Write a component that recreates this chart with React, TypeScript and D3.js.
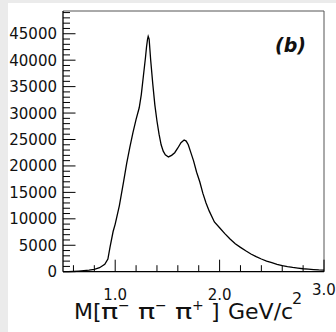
import * as d3 from 'd3';
import React from 'react';

// M(3pi) histogram
const mass = [
  0.5, 0.55, 0.6, 0.65, 0.7, 0.75, 0.8, 0.85, 0.9, 0.93, 0.95, 0.98, 1.0, 1.04, 1.08, 1.11,
  1.14, 1.17, 1.2, 1.23, 1.25, 1.27, 1.29, 1.3, 1.31, 1.316, 1.325, 1.34, 1.36, 1.38, 1.4,
  1.42, 1.44, 1.46, 1.48, 1.51, 1.54, 1.57, 1.6, 1.63, 1.66, 1.68, 1.7, 1.72, 1.75, 1.78,
  1.81, 1.84, 1.87, 1.9, 1.95, 2.0, 2.05, 2.1, 2.15, 2.2, 2.25, 2.3, 2.35, 2.4, 2.45, 2.5,
  2.55, 2.6, 2.65, 2.7, 2.75, 2.8, 2.85, 2.9, 2.95, 3.0,
];
const counts = [
  0, 20, 60, 120, 200, 300, 450, 750, 1400, 2400, 4600, 7600, 9000, 12500, 17000, 20500,
  23500, 26300, 28800, 31000, 33500, 37000, 40500, 42500, 44000, 44500, 44000, 40000, 35500,
  31500, 28500, 26000, 24000, 22800, 22100, 21700, 22000, 22500, 23400, 24400, 24900, 24700,
  24000, 22800, 21000, 18800, 17000, 14800, 13000, 11500, 9400, 8300, 7200, 6200, 5300, 4600,
  3950, 3350, 2850, 2400, 2000, 1700, 1400, 1150, 950, 800, 680, 560, 470, 400, 330, 300,
];

const yLabels = [0, 5000, 10000, 15000, 20000, 25000, 30000, 35000, 40000, 45000];
const xLabels = ['1.0', '2.0', '3.0'];
// axis title pieces: pion charges
const pionCharges = ['−', '−', '+'];

export default function App() {
  const width = 336;
  const height = 332;
  const left = 63, right = 324, top = 11, bottom = 271.7;

  const x = d3.scaleLinear().domain([0.5, 3.0]).range([left, right]);
  const y = d3.scaleLinear().domain([0, 49300]).range([bottom, top]);

  const line = d3
    .line<number>()
    .x((d, i) => x(mass[i]))
    .y((d) => y(d));

  const yMinor = d3.range(0, 49001, 1000);
  const xMinor = d3.range(0.6, 3.01, 0.2).map((v) => +v.toFixed(1));
  const font = '"DejaVu Sans", sans-serif';
  const titleY = 319;

  return (
    <svg
      width={width}
      height={height}
      style={{ position: 'absolute', left: 0, top: 0 }}
    >
      <rect x={0} y={0} width={width} height={height} fill="#fff" />
      <rect x={0} y={0} width={8} height={height} fill="#ebebeb" />
      <rect x={0} y={0} width={width} height={3} fill="#ebebeb" />

      {/* frame */}
      <line x1={left} x2={right} y1={top} y2={top} stroke="#555" strokeWidth={1} />
      <line x1={right} x2={right} y1={top} y2={bottom} stroke="#555" strokeWidth={1} />

      {/* y ticks */}
      {yMinor.map((v) => (
        <line
          key={'y' + v}
          x1={left}
          x2={left + (v % 5000 === 0 ? 12.5 : 7)}
          y1={y(v)}
          y2={y(v)}
          stroke="#000"
          strokeWidth={1}
        />
      ))}
      {/* x ticks */}
      {xMinor.map((v) => (
        <line
          key={'x' + v}
          x1={x(v)}
          x2={x(v)}
          y1={bottom}
          y2={bottom - (Number.isInteger(v) ? 12 : 6.5)}
          stroke="#000"
          strokeWidth={1}
        />
      ))}

      <line x1={left} x2={left} y1={top} y2={bottom} stroke="#000" strokeWidth={1.3} />
      <line x1={left} x2={right} y1={bottom} y2={bottom} stroke="#000" strokeWidth={1.3} />

      {/* histogram */}
      <path d={line(counts) ?? ''} fill="none" stroke="#000" strokeWidth={1.3} />

      {yLabels.map((v) => (
        <text
          key={'yl' + v}
          x={57}
          y={y(v) + 5.5}
          textAnchor="end"
          fontFamily={font}
          fontSize={15}
          fill="#111"
        >
          {v}
        </text>
      ))}

      {xLabels.map((s, i) => (
        <text
          key={'xl' + s}
          x={x(+s)}
          y={i === 2 ? 295 : 300}
          textAnchor="middle"
          fontFamily={font}
          fontSize={15}
          fill="#111"
        >
          {s}
        </text>
      ))}

      {/* x axis title: M[π−π−π+] GeV/c² */}
      <g fontFamily={font} fill="#111">
        <text x={74} y={titleY} fontSize={22}>M[</text>
        {pionCharges.map((c, i) => (
          <g key={'pi' + i}>
            <text
              transform={`translate(${101 + i * 37},${titleY}) scale(1.3,1)`}
              fontSize={22}
            >
              π
            </text>
            <text x={118 + i * 37} y={titleY - 9} fontSize={14}>{c}</text>
          </g>
        ))}
        <text x={211} y={titleY} fontSize={22}>]</text>
        <text x={228} y={titleY} fontSize={22}>GeV/c</text>
        <text x={292} y={titleY - 15} fontSize={16}>2</text>
      </g>

      <text
        x={275}
        y={52}
        fontFamily={font}
        fontSize={19}
        fontWeight="bold"
        fontStyle="italic"
        fill="#111"
      >
        (b)
      </text>
    </svg>
  );
}
